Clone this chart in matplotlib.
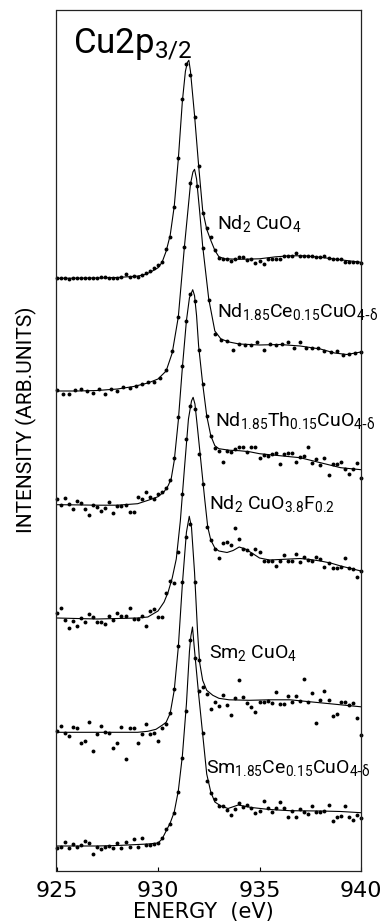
import numpy as np
import matplotlib.pyplot as plt

plt.rcParams['font.family'] = ['Roboto', 'DejaVu Sans']
plt.rcParams.update({'mathtext.default': 'regular'})

# measurement grids (eV)
energy_02 = np.round(np.arange(925.0, 940.01, 0.2), 1)
energy_03 = np.round(np.arange(925.0, 940.01, 0.3), 1)

# data points (arb. units above each spectrum's left baseline)
nd2cuo4_pts = [0, 0, 0, -1, 0.6, 0.3, 0, 0, 0, 0,
               0.3, 1, 1.3, 0.6, 0.6, 0.3, 1.3, 4, 1.3, 2,
               1.6, 3.3, 5, 7.7, 10, 13, 16.6, 29, 41.6, 71.6,
               120.6, 179.3, 214, 203.3, 161.6, 112.3, 65, 50, 41, 28.3,
               20, 19, 19, 17.6, 19.3, 21.3, 21, 18, 19.3, 15.3,
               17.3, 14, 19, 19, 19, 19.3, 22.3, 22.6, 22.3, 25,
               22, 22.3, 22.3, 22.3, 21.6, 21, 22.3, 20, 19.3, 19,
               19.6, 16.7, 16.7, 16.7, 16.7, 15.6]
ndce_pts = [0.6, -2.6, -2.6, 1.3, 2.2, 0.5, -1.7, 2.2, -2.6, 2.2,
            0.5, 4, 3.2, 4.6, 6.8, 8.8, 9.5, 12.7, 20.6, 39.6,
            74, 144, 208, 205, 143, 91, 57, 51, 50, 41,
            46.7, 46, 46, 49.3, 41, 47, 46, 47, 49.3, 42.7,
            48.7, 42.7, 42.7, 42.7, 40.3, 39.3, 40, 36, 36.7, 37.7,
            39.3]
ndth_pts = [6.4, 0.7, 7.4, 1.7, -3.3, 5, 2.4, -3.6, -9.3, 0.7,
            -1.6, -5, -2.6, 4, -7, -0.3, 0, 0.5, -6.6, -6.6,
            9, 6.4, 14, 9, 6.4, 11.7, 13.4, 17.4, 25.7,
            48, 89, 140, 185, 212, 205, 156, 122, 90, 70, 58,
            55, 44, 55, 54, 56.3, 59, 59, 54, 59, 59,
            47.4, 50.7, 49.7, 51.7, 52.4, 41.7, 51.7, 52.4, 52.4, 44,
            49, 49.7, 59, 43, 46.4, 40.7, 47.4, 30.7, 41.7, 41.7,
            44, 36.4, 31.7, 36.4, 43, 27.4]
ndf_pts = [5.7, 10.7, -1, -9.3, -2, -7, 1.3, -2.7, 4.7, 2.3,
           -2.7, -2.7, -5.3, 3.3, -1, 5.7, 3.3, 3.3, 11.3, 0,
           0, 3.3, -7, 8, 9.7, 1.7, 1.7, 25.7, 38, 35.7, 67.3,
           125, 180, 213, 210, 165, 135, 92, 79, 70, 60.7,
           75.7, 76.7, 74, 90.7, 79.7, 70, 69, 64.7, 70, 67.3,
           58.3, 58.3, 58.3, 53.3, 58.3, 64, 58.3, 58.3, 65, 56.7,
           61.7, 59, 58, 62.3, 60, 52.3, 56.3, 50.7, 50.7, 52.3,
           60.7, 50.7, 49.7, 41.7, 48]
sm_pts = [1.6, 6.6, -1, -3.7, 5.6, 4.6, -11, -8.4, 10, -19,
          -2, 6, 0.6, -0.4, -15.7, -10.7, 5, -26.7, 4, 4,
          -10.7, -1.7, 8.3, -1.7, -0.4, -8.4, 4, 8.3, 19.6, 43.3,
          86, 150, 195, 208, 150, 72, 45, 38.3, 23, 30.6, 26.3,
          37.3, 27.3, 17.3, 34.6, 52.3, 35.6, 29, 25.6, 20.6, 30,
          30.6, 31.6, 29.6, 40.6, 28.3, 28.3, 36.3, 30.6, 36.6, 31.3,
          53, 30, 39, 9, 32.3, 41.6, 32.3, 16.3, 18.3, 30.6,
          30.6, 27.3, 29, 14, -2.7]
smce_pts = [-2.3, -0.7, 3.7, -2.3, 1.7, -0.7, 1, 5, 3.3, -8.3,
            -0.7, -3, -0.7, 0, -2.3, 3.3, -1.7, 4.3, -1.3, 6.7,
            -0.7, 7.7, 1, 1, 1.7, 3.3, 7.7, 16.7, 22, 32.7, 54.3,
            88, 135, 206, 188, 155, 113, 65, 52.7, 46.7, 40.3,
            40.3, 36, 31, 36.7, 42.7, 39.3, 41, 37.7, 32.7, 35.3,
            45.3, 38.3, 34.3, 37.7, 44.3, 37.7, 29.3, 35.3, 29.3, 37,
            34.3, 32, 40.3, 34.3, 34.3, 35.3, 41, 25.3, 29.3, 30.3,
            40.3, 29.3, 26, 31, 27.7]

# fitted curves (energy, intensity)
fit1_e = [925.0, 927.0, 928.0, 928.5, 929.0, 929.4, 929.7, 930.0, 930.2, 930.4,
          930.6, 930.8, 931.0, 931.2, 931.35, 931.45, 931.52, 931.6, 931.8, 932.0,
          932.2, 932.4, 932.6, 932.8, 933.0, 933.3, 934.0, 935.0, 935.8, 936.5,
          937.2, 938.0, 938.8, 939.4, 940.0]
fit1_i = [0, 0.3, 0.8, 1.5, 2.2, 4, 7, 10.5, 16, 27,
          43, 72, 119, 177, 207, 216, 218, 207, 163, 113,
          68, 49, 38, 28, 21.5, 19.5, 19, 19.5, 21.5, 22.5,
          22.5, 21, 19, 17.5, 16]
fit2_e = [925.0, 926.0, 927.0, 928.0, 928.8, 929.5, 930.0, 930.4, 930.7, 931.0,
          931.3, 931.6, 931.72, 931.8, 931.9, 932.05, 932.2, 932.5, 932.8, 933.1,
          933.5, 934.0, 935.0, 936.0, 937.0, 938.0, 938.7, 939.3, 940.0]
fit2_i = [0, 0, 0.5, 2, 4.5, 8, 12, 20, 38, 74,
          144, 207, 219, 221.7, 212, 180, 145, 92, 60, 52,
          49, 47, 46, 46.5, 45, 42, 38, 36.5, 39]
fit3_e = [925.0, 926.0, 927.0, 928.0, 929.0, 929.3, 929.6, 930.0, 930.3, 930.5,
          930.65, 930.8, 931.0, 931.2, 931.4, 931.55, 931.71, 931.8, 931.9, 932.0,
          932.2, 932.4, 932.6, 932.8, 933.0, 933.5, 934.0, 934.5, 935.0, 936.0,
          937.0, 938.0, 939.0, 940.0]
fit3_i = [1, 0.8, 0.5, 0.5, 2, 4, 6, 9, 14, 20,
          27, 45, 85, 138, 185, 208, 216, 210, 190, 160,
          122, 90, 70, 60, 57, 55.5, 55, 54, 52, 50,
          48, 43, 38, 36]
fit4_e = [925.0, 926.0, 927.0, 928.0, 929.0, 929.5, 930.0, 930.3, 930.5, 930.7,
          930.9, 931.1, 931.3, 931.5, 931.65, 931.73, 931.82, 931.95, 932.1, 932.3,
          932.45, 932.6, 932.8, 933.0, 933.4, 933.7, 934.0, 934.3, 934.7, 935.0,
          935.5, 936.0, 936.5, 937.0, 937.5, 938.0, 938.5, 939.0, 939.5, 940.0]
fit4_i = [1, 0.5, 0, 0.5, 1, 2, 8, 17, 27, 41,
          60, 98, 150, 200, 218, 221.7, 215, 190, 160, 120,
          92, 79, 71, 68, 66.5, 68.5, 72, 70, 65, 61,
          59, 59.5, 60, 60.5, 59.5, 58, 56, 53, 50.5, 48]
fit5_e = [925.0, 927.0, 929.0, 929.5, 929.9, 930.2, 930.4, 930.6, 930.8, 931.0,
          931.2, 931.4, 931.54, 931.65, 931.8, 931.95, 932.05, 932.2, 932.4, 932.7,
          933.0, 933.5, 934.5, 935.5, 936.5, 937.5, 938.5, 939.5, 940.0]
fit5_i = [0, 0, 0, 1, 3, 7, 10, 19, 42, 85,
          148, 200, 216, 205, 160, 100, 70, 52, 42, 37,
          34, 32.5, 32, 32.5, 32.5, 30.5, 28.5, 26.5, 25.5]
fit6_e = [925.0, 927.0, 928.0, 929.0, 929.5, 930.0, 930.2, 930.4, 930.6, 930.8,
          931.0, 931.2, 931.4, 931.55, 931.62, 931.7, 931.78, 931.88, 932.0, 932.2,
          932.4, 932.6, 932.8, 933.1, 933.45, 933.95, 934.6, 935.5, 936.5, 938.0,
          939.0, 940.0]
fit6_i = [0, 0, 0.5, 1.5, 2, 3, 7, 15, 23, 34,
          55, 90, 142, 195, 210, 219, 200, 178, 152, 112,
          72, 54, 44, 40, 37.5, 41, 38.5, 36.5, 35.3, 35,
          34.5, 33.3]

sample_names = [r'Nd$_2$ CuO$_4$',
                r'Nd$_{1.85}$Ce$_{0.15}$CuO$_{4\text{-}\delta}$',
                r'Nd$_{1.85}$Th$_{0.15}$CuO$_{4\text{-}\delta}$',
                r'Nd$_2$ CuO$_{3.8}$F$_{0.2}$',
                r'Sm$_2$ CuO$_4$',
                r'Sm$_{1.85}$Ce$_{0.15}$CuO$_{4\text{-}\delta}$']

spectra = [
    (energy_02, nd2cuo4_pts, fit1_e, fit1_i),
    (energy_03, ndce_pts, fit2_e, fit2_i),
    (energy_02, ndth_pts, fit3_e, fit3_i),
    (energy_02, ndf_pts, fit4_e, fit4_i),
    (energy_02, sm_pts, fit5_e, fit5_i),
    (energy_02, smce_pts, fit6_e, fit6_i),
]

# vertical stacking and label placement
offsets = [592.7, 480, 365.3, 252, 138.7, 25]
label_xy = [(932.9, 642), (932.9, 554), (932.8, 445),
            (932.5, 362), (932.5, 213), (932.35, 98)]

fig = plt.figure(figsize=(3.83, 9.24), dpi=100)
ax = fig.add_axes([56.5 / 383, 1 - 871 / 924, 304.5 / 383, 861 / 924])

for (e, pts, fe, fi), off in zip(spectra, offsets):
    ax.plot(fe, np.array(fi) + off, color='k', lw=0.8)
    ax.plot(e, np.array(pts) + off, 'o', color='k', ms=2.8, mew=0, clip_on=False)

for name, (x, y) in zip(sample_names, label_xy):
    ax.text(x, y, name, fontsize=14, ha='left', va='baseline')

ax.text(925.81, 818, r'Cu2p$_{3/2}$', fontsize=25,
        ha='left', va='baseline')

ax.set_xlim(925, 940)
ax.set_ylim(0, 861)
ax.set_yticks([])
ax.set_xticks([925, 930, 935, 940])
ax.tick_params(axis='x', direction='in', length=3, width=0.8, pad=7, labelsize=16)
for t in ax.get_xticklabels():
    t.set_fontfamily(['DejaVu Sans'])
for s in ax.spines.values():
    s.set_linewidth(0.9)
    s.set_color('#222222')

fig.text(203.7 / 383, 1 - 912 / 924, 'ENERGY  (eV)', fontsize=15,
         family=['DejaVu Sans'], ha='center', va='center')
fig.text(26 / 383, 1 - 420 / 924, 'INTENSITY (ARB.UNITS)', fontsize=15,
         rotation=90, ha='center', va='center')

fig.savefig('out.png', dpi=100)
